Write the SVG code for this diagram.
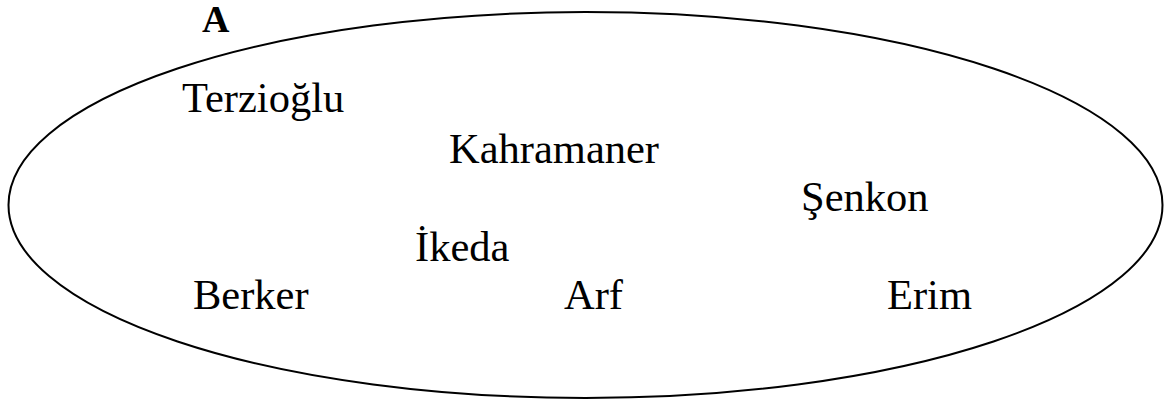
<svg xmlns="http://www.w3.org/2000/svg" width="1168" height="405" viewBox="0 0 1168 405">
<style>
.lbl{font-family:"Liberation Serif","Times New Roman",serif;font-size:42.5px;fill:#000}
.ttl{font-family:"Liberation Serif","Times New Roman",serif;font-size:38px;font-weight:bold;fill:#000}
.set{fill:none;stroke:#000;stroke-width:2}
</style>
<rect width="1168" height="405" fill="#fff"/>
<g id="setA">
<ellipse class="set" cx="585.5" cy="205" rx="577" ry="193"/>
<text class="ttl" x="202" y="32">A</text>
</g>
<g id="terzioglu"><text class="lbl" x="182" y="112">Terzioğlu</text></g>
<g id="kahramaner"><text class="lbl" x="449" y="163">Kahramaner</text></g>
<g id="senkon"><text class="lbl" x="801" y="211">Şenkon</text></g>
<g id="ikeda"><text class="lbl" x="415" y="261">İkeda</text></g>
<g id="berker"><text class="lbl" x="193" y="309">Berker</text></g>
<g id="arf"><text class="lbl" x="564" y="309">Arf</text></g>
<g id="erim"><text class="lbl" x="887" y="309">Erim</text></g>
<g id="connectors"></g>
</svg>
